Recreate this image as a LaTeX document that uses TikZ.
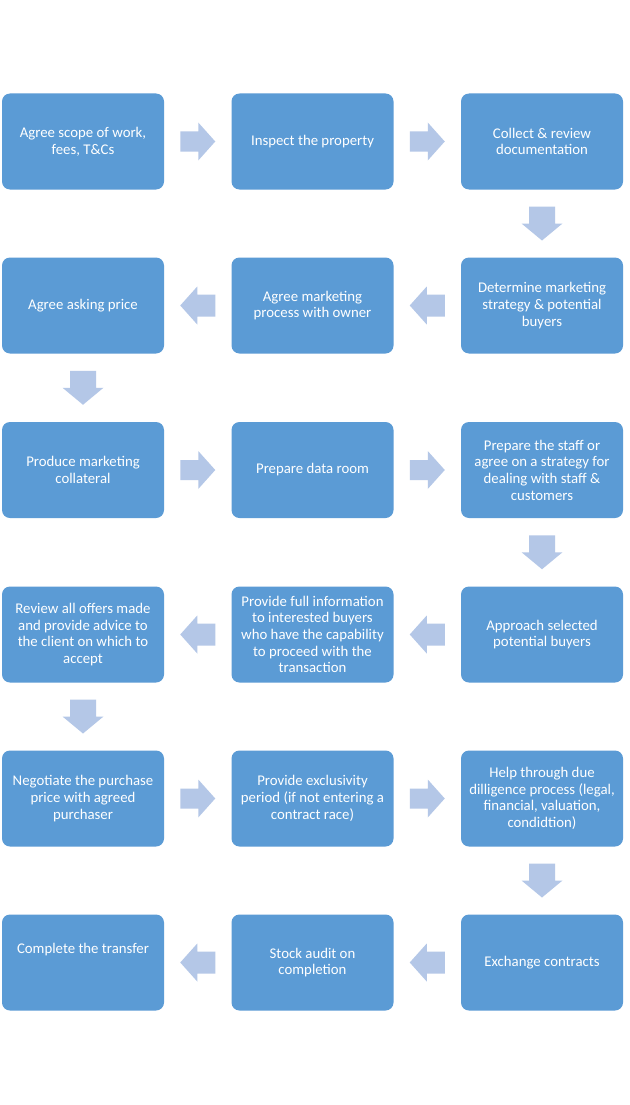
\documentclass[tikz,border=0pt]{standalone}
\usepackage{fontspec}
\setmainfont{Carlito}
\usetikzlibrary{calc}
\definecolor{boxblue}{HTML}{5B9BD5}
\definecolor{arrowblue}{HTML}{B4C7E7}
\tikzset{
  stepbox/.style={rectangle, rounded corners=8pt, fill=boxblue, draw=none,
    minimum width=162pt, minimum height=96pt, inner sep=0pt, text=white,
    align=center, font=\fontsize{14.8}{16.7}\selectfont},
  rarrow/.pic={\fill[arrowblue] (-17.5,-10) -- (0.5,-10) -- (0.5,-19) -- (17.5,0) -- (0.5,19) -- (0.5,10) -- (-17.5,10) -- cycle;},
  larrow/.pic={\fill[arrowblue] (17.5,-11) -- (-0.5,-11) -- (-0.5,-19) -- (-17.5,0) -- (-0.5,19) -- (-0.5,11) -- (17.5,11) -- cycle;},
  darrow/.pic={\fill[arrowblue] (-13,-17) -- (13,-17) -- (13,0) -- (20.5,0) -- (0,17) -- (-20.5,0) -- (-13,0) -- cycle;}
}
\begin{document}
\begin{tikzpicture}[x=1pt,y=-1pt]
\useasboundingbox[fill=white] (0,0) rectangle (629,1105);
% row 1
\node[stepbox] (n1) at (83,141.5) {Agree scope of work,\\fees, T\&Cs};
\node[stepbox] (n2) at (312.5,141.5) {Inspect the property};
\node[stepbox] (n3) at (542,141.5) {Collect \& review\\documentation};
% row 2
\node[stepbox] (n4) at (542,305.5) {Determine marketing\\strategy \& potential\\buyers};
\node[stepbox] (n5) at (312.5,305.5) {Agree marketing\\process with owner};
\node[stepbox] (n6) at (83,305.5) {Agree asking price};
% row 3
\node[stepbox] (n7) at (83,470) {Produce marketing\\collateral};
\node[stepbox] (n8) at (312.5,470) {Prepare data room};
\node[stepbox] (n9) at (542,470) {Prepare the staff or\\agree on a strategy for\\dealing with staff \&\\customers};
% row 4
\node[stepbox] (n10) at (542,634.5) {Approach selected\\potential buyers};
\node[stepbox] (n11) at (312.5,634.5) {Provide full information\\to interested buyers\\who have the capability\\to proceed with the\\transaction};
\node[stepbox] (n12) at (83,634.5) {Review all offers made\\and provide advice to\\the client on which to\\accept};
% row 5
\node[stepbox] (n13) at (83,798.5) {Negotiate the purchase\\price with agreed\\purchaser};
\node[stepbox] (n14) at (312.5,798.5) {Provide exclusivity\\period (if not entering a\\contract race)};
\node[stepbox] (n15) at (542,798.5) {Help through due\\dilligence process (legal,\\financial, valuation,\\condidtion)};
% row 6
\node[stepbox] (n16) at (542,962.5) {Exchange contracts};
\node[stepbox] (n17) at (312.5,962.5) {Stock audit on\\completion};
\node[stepbox] (n18) at (83,962.5) {Complete the transfer\\[7pt]\strut};
% connectors
\pic at ($(n1.east)!0.5!(n2.west)$) {rarrow};
\pic at ($(n2.east)!0.5!(n3.west)$) {rarrow};
\pic at ($(n3.south)!0.5!(n4.north)$) {darrow};
\pic at ($(n4.west)!0.5!(n5.east)$) {larrow};
\pic at ($(n5.west)!0.5!(n6.east)$) {larrow};
\pic at ($(n6.south)!0.5!(n7.north)$) {darrow};
\pic at ($(n7.east)!0.5!(n8.west)$) {rarrow};
\pic at ($(n8.east)!0.5!(n9.west)$) {rarrow};
\pic at ($(n9.south)!0.5!(n10.north)$) {darrow};
\pic at ($(n10.west)!0.5!(n11.east)$) {larrow};
\pic at ($(n11.west)!0.5!(n12.east)$) {larrow};
\pic at ($(n12.south)!0.5!(n13.north)$) {darrow};
\pic at ($(n13.east)!0.5!(n14.west)$) {rarrow};
\pic at ($(n14.east)!0.5!(n15.west)$) {rarrow};
\pic at ($(n15.south)!0.5!(n16.north)$) {darrow};
\pic at ($(n16.west)!0.5!(n17.east)$) {larrow};
\pic at ($(n17.west)!0.5!(n18.east)$) {larrow};
\end{tikzpicture}
\end{document}
